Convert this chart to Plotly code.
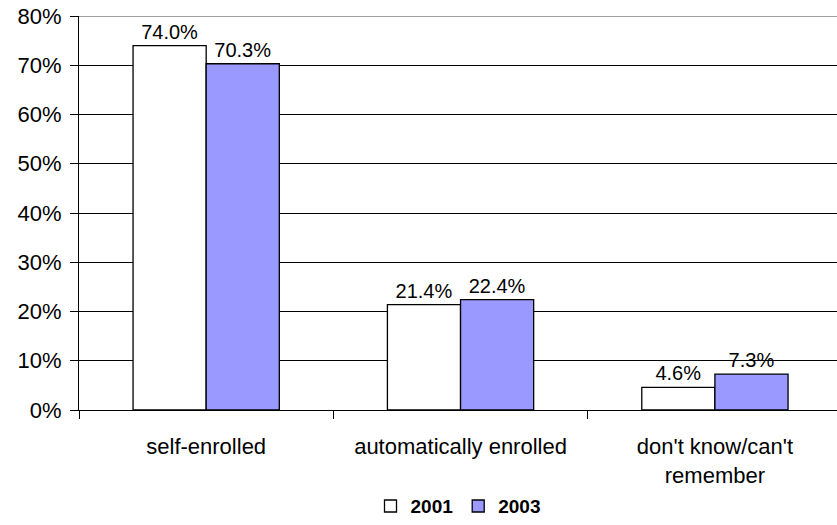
import plotly.graph_objects as go

categories = ["self-enrolled", "automatically enrolled", "don't know/can't<br>remember"]
years = ["2001", "2003"]
values_2001 = [0.740, 0.214, 0.046]
values_2003 = [0.703, 0.224, 0.073]
colors = ["#FFFFFF", "#9999FF"]
y_ticks = [0, 0.1, 0.2, 0.3, 0.4, 0.5, 0.6, 0.7, 0.8]
y_labels = ["0%", "10%", "20%", "30%", "40%", "50%", "60%", "70%", "80%"]

FONT = "Liberation Sans, Arial"

fig = go.Figure()
for name, vals, col in zip(years, [values_2001, values_2003], colors):
    fig.add_trace(go.Bar(
        x=categories, y=vals, name=f"<b>{name}</b>",
        marker=dict(color=col, line=dict(color="black", width=1.3)),
        text=[f"{v*100:.1f}%" for v in vals], textposition="outside",
        textfont=dict(family=FONT, size=20, color="black"),
        cliponaxis=False,
    ))

fig.add_shape(type="line", xref="paper", yref="y", x0=0, x1=1, y0=0.8, y1=0.8,
              line=dict(color="#808080", width=1.5), layer="above")

fig.update_layout(
    width=837, height=525,
    margin=dict(l=79, r=0, t=16, b=115, autoexpand=False),
    paper_bgcolor="white", plot_bgcolor="white",
    barmode="group", bargap=0.425, bargroupgap=0,
    font=dict(family=FONT, size=22, color="black"),
    showlegend=True,
    legend=dict(orientation="h", x=0.5, xanchor="center", y=-0.244, yanchor="middle",
                font=dict(size=19), tracegroupgap=0),
    xaxis=dict(range=[-0.5, 2.48], showline=True, linecolor="black", linewidth=1,
               ticks="outside", tickson="boundaries", ticklen=8, tickcolor="black",
               showgrid=False, tickfont=dict(size=22), ticklabelstandoff=17,
               automargin=False),
    yaxis=dict(range=[0, 0.8], tickvals=y_ticks, ticktext=y_labels,
               showline=True, linecolor="black", linewidth=1, ticks="outside",
               ticklen=8, tickcolor="black", showgrid=True, gridcolor="black",
               gridwidth=1, zeroline=False, tickfont=dict(size=22),
               ticklabelstandoff=4, automargin=False),
)

fig.write_html("out.html")
